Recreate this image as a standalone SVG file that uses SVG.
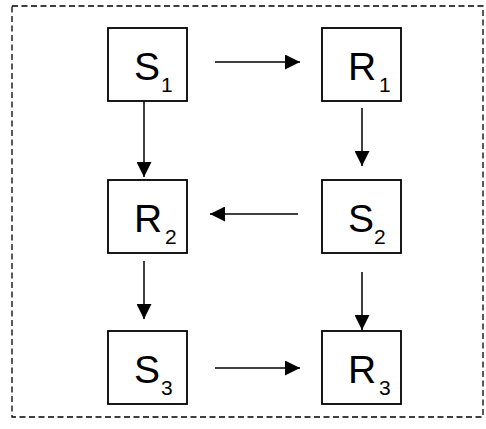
<svg xmlns="http://www.w3.org/2000/svg" width="486" height="429" viewBox="0 0 486 429">
<style>
.box{fill:#fff;stroke:#000;stroke-width:1.8}
.lbl{font-family:"Liberation Sans",Arial,sans-serif;font-size:39px;fill:#000}
.sub{font-family:"Liberation Sans",Arial,sans-serif;font-size:21px;fill:#000}
.conn line{stroke:#000;stroke-width:1.5;marker-end:url(#ah)}
</style>
<defs>
<marker id="ah" markerUnits="userSpaceOnUse" markerWidth="15" markerHeight="15" refX="15" refY="7.5" orient="auto">
<path d="M0,0 L15,7.5 L0,15 z" fill="#000"/>
</marker>
</defs>
<rect x="0" y="0" width="486" height="429" fill="#fff"/>
<rect id="frame" x="12" y="6" width="471" height="411" fill="none" stroke="#000" stroke-width="1.3" stroke-dasharray="6,3.5"/>
<g id="S1"><rect class="box" x="108" y="28" width="79" height="73"/><text class="lbl" x="134" y="80">S</text><text class="sub" x="161" y="92">1</text></g>
<g id="R1"><rect class="box" x="322" y="28" width="79" height="73"/><text class="lbl" x="348" y="80">R</text><text class="sub" x="379" y="92">1</text></g>
<g id="R2"><rect class="box" x="108" y="180" width="79" height="73"/><text class="lbl" x="134" y="232">R</text><text class="sub" x="165" y="244">2</text></g>
<g id="S2"><rect class="box" x="322" y="180" width="79" height="73"/><text class="lbl" x="348" y="232">S</text><text class="sub" x="374" y="244">2</text></g>
<g id="S3"><rect class="box" x="108" y="331" width="79" height="73"/><text class="lbl" x="134" y="383">S</text><text class="sub" x="161" y="395">3</text></g>
<g id="R3"><rect class="box" x="322" y="331" width="79" height="73"/><text class="lbl" x="348" y="383">R</text><text class="sub" x="379" y="395">3</text></g>
<g id="connectors" class="conn">
<line x1="215" y1="62" x2="300" y2="62"/>
<line x1="362" y1="108" x2="362" y2="166"/>
<line x1="144" y1="101" x2="144" y2="177"/>
<line x1="298" y1="214" x2="210" y2="214"/>
<line x1="144" y1="261" x2="144" y2="319"/>
<line x1="362" y1="272" x2="362" y2="330"/>
<line x1="215" y1="368" x2="300" y2="368"/>
</g>
</svg>
